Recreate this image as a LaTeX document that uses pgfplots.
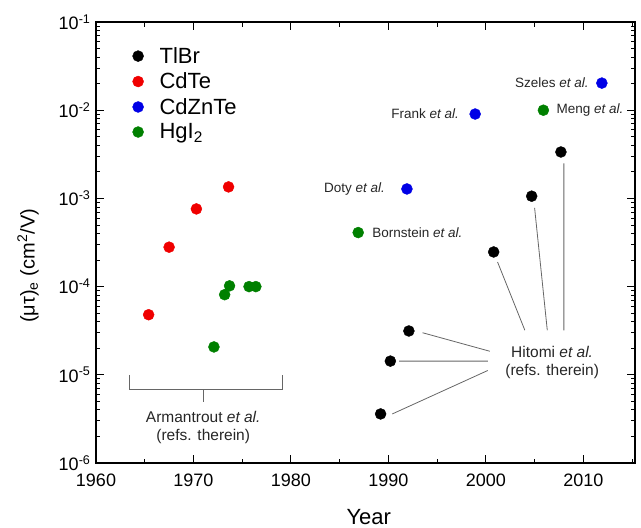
\documentclass[border=0pt]{standalone}
\usepackage{pgfplots}
\pgfplotsset{compat=1.18}
\usepackage{fontspec}
\setmainfont{Liberation Sans}
\definecolor{mgreen}{RGB}{0,128,0}
\definecolor{mblue}{RGB}{0,0,230}
\definecolor{mred}{RGB}{240,0,0}
\begin{document}
\begin{tikzpicture}
\useasboundingbox (-96pt,-65pt) rectangle (545pt,463pt);
\begin{axis}[
  at={(0,0)}, anchor=south west,
  scale only axis, width=539pt, height=441pt,
  xmin=1960, xmax=2015.3,
  ymode=log, ymin=1e-6, ymax=1e-1,
  xtick={1960,1970,1980,1990,2000,2010},
  minor xtick={1965,1975,1985,1995,2005,2015},
  xticklabel style={font=\fontsize{18}{20}\selectfont, yshift=-7pt},
  /pgf/number format/1000 sep={},
  /pgf/number format/assume math mode=true,
  ytick={1e-6,1e-5,1e-4,1e-3,1e-2,1e-1},
  yticklabels={10\textsuperscript{-6},10\textsuperscript{-5},10\textsuperscript{-4},10\textsuperscript{-3},10\textsuperscript{-2},10\textsuperscript{-1}},
  yticklabel style={font=\fontsize{18}{20}\selectfont, xshift=-2pt},
  tick align=inside,
  major tick length=8pt, minor tick length=4.5pt,
  every tick/.style={black, line width=0.9pt},
  axis line style={line width=1.1pt},
  xlabel={Year},
  xlabel style={font=\fontsize{22}{24}\selectfont, at={(axis description cs:0.506,0)}, anchor=center, yshift=-54pt},
  ylabel={(μτ)\textsubscript{e} (cm\textsuperscript{2}/V)},
  ylabel style={font=\fontsize{20}{22}\selectfont, at={(axis description cs:-0.126,0.447)}, anchor=center},
  legend style={at={(axis description cs:0.062,0.952)}, anchor=north west, draw=none, fill=none,
    font=\fontsize{22}{24}\selectfont, row sep=4pt, column sep=14pt},
  legend cell align=left,
  clip=false,
]
\addplot[only marks, mark=*, mark size=5.5pt, black] coordinates {
  (2007.7,3.36e-3) (2004.7,1.06e-3) (2000.8,2.47e-4) (1992.1,3.14e-5) (1990.2,1.43e-5) (1989.2,3.6e-6)
};
\addlegendentry{TlBr}
\addplot[only marks, mark=*, mark size=5.5pt, mred] coordinates {
  (1965.4,4.8e-5) (1967.5,2.8e-4) (1970.3,7.6e-4) (1973.6,1.35e-3)
};
\addlegendentry{CdTe}
\addplot[only marks, mark=*, mark size=5.5pt, mblue] coordinates {
  (1991.9,1.28e-3) (1998.9,9.05e-3) (2011.9,2.03e-2)
};
\addlegendentry{CdZnTe}
\addplot[only marks, mark=*, mark size=5.5pt, mgreen] coordinates {
  (1972.1,2.07e-5) (1973.2,8.1e-5) (1973.7,1.02e-4) (1975.7,1.0e-4) (1976.4,1.0e-4) (1986.9,4.1e-4) (2005.9,1.0e-2)
};
\addlegendentry{HgI\textsubscript{2}}
% leader lines
\draw[gray!80!black, line width=0.8pt]
  (axis cs:2001.2,1.9e-4) -- (axis cs:2004.0,3.2e-5)
  (axis cs:2005.0,7.8e-4) -- (axis cs:2006.3,3.2e-5)
  (axis cs:2008.0,2.5e-3) -- (axis cs:2008.0,3.2e-5)
  (axis cs:1993.5,3.0e-5) -- (axis cs:2000.4,1.85e-5)
  (axis cs:1991.1,1.43e-5) -- (axis cs:2000.2,1.43e-5)
  (axis cs:1990.4,3.6e-6) -- (axis cs:2000.2,1.12e-5);
\draw[gray!80!black, line width=0.8pt]
  (axis cs:1963.4,1.0e-5) -- (axis cs:1963.4,6.9e-6) -- (axis cs:1979.1,6.9e-6) -- (axis cs:1979.1,1.0e-5)
  (axis cs:1971.0,6.9e-6) -- (axis cs:1971.0,4.9e-6);
\node[font=\fontsize{15.5}{18}\selectfont, align=center, text=black!85] at (axis cs:1971.0,2.55e-6) {Armantrout \textit{et al.}\\(refs. therein)};
\node[font=\fontsize{15.5}{18}\selectfont, align=center, text=black!85] at (axis cs:2006.8,1.38e-5) {Hitomi \textit{et al.}\\(refs. therein)};
\node[font=\fontsize{13.5}{16}\selectfont, anchor=west, text=black!85] at (axis cs:1988.0,4.1e-4) {Bornstein \textit{et al.}};
\node[font=\fontsize{13.5}{16}\selectfont, anchor=east, text=black!85] at (axis cs:1990.0,1.28e-3) {Doty \textit{et al.}};
\node[font=\fontsize{13.5}{16}\selectfont, anchor=east, text=black!85] at (axis cs:1997.6,9.05e-3) {Frank \textit{et al.}};
\node[font=\fontsize{13.5}{16}\selectfont, anchor=east, text=black!85] at (axis cs:2010.9,2.03e-2) {Szeles \textit{et al.}};
\node[font=\fontsize{13.5}{16}\selectfont, anchor=west, text=black!85] at (axis cs:2006.9,1.0e-2) {Meng \textit{et al.}};
\end{axis}
\end{tikzpicture}
\end{document}
